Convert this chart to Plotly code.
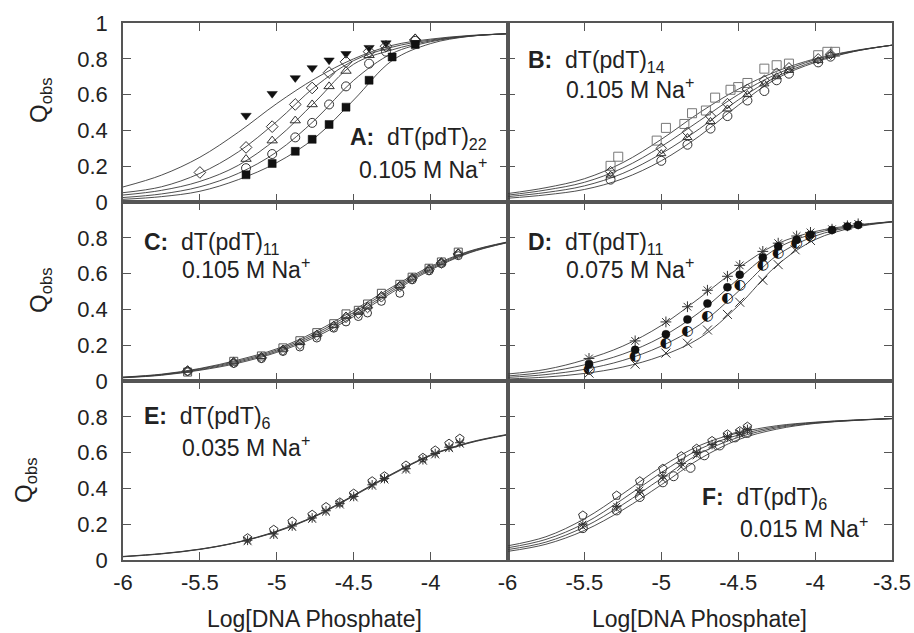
import plotly.graph_objects as go
from plotly.subplots import make_subplots

# ---------------- data ----------------
CURVE_X = [-6.0, -5.75, -5.5, -5.25, -5.0, -4.75, -4.5, -4.25, -4.0, -3.75, -3.5]

# Panel A: dT(pdT)22, 0.105 M Na+
A_CURVES = [
    [0.084, 0.15, 0.25, 0.39, 0.55, 0.69, 0.80, 0.875, 0.91, 0.93, 0.94],
    [0.052, 0.085, 0.16, 0.28, 0.45, 0.645, 0.79, 0.865, 0.905, 0.928, 0.94],
    [0.039, 0.065, 0.115, 0.205, 0.355, 0.56, 0.77, 0.85, 0.90, 0.927, 0.94],
    [0.025, 0.045, 0.085, 0.16, 0.28, 0.46, 0.68, 0.83, 0.895, 0.926, 0.94],
    [0.015, 0.03, 0.06, 0.125, 0.22, 0.36, 0.57, 0.79, 0.885, 0.925, 0.94],
]
A_TRI_DOWN_X = [-5.2, -5.03, -4.88, -4.77, -4.66, -4.55, -4.40, -4.29]
A_TRI_DOWN_Y = [0.483, 0.605, 0.693, 0.749, 0.792, 0.828, 0.862, 0.888]
A_DIAMOND_X = [-5.5, -5.2, -5.03, -4.88, -4.77, -4.66, -4.55, -4.40, -4.29, -4.10]
A_DIAMOND_Y = [0.165, 0.305, 0.421, 0.545, 0.637, 0.723, 0.783, 0.84, 0.87, 0.905]
A_TRI_UP_X = [-5.2, -5.03, -4.88, -4.77, -4.66, -4.55, -4.40, -4.29, -4.10]
A_TRI_UP_Y = [0.24, 0.343, 0.455, 0.545, 0.646, 0.732, 0.82, 0.862, 0.914]
A_CIRCLE_X = [-5.2, -5.03, -4.88, -4.77, -4.66, -4.55, -4.40, -4.29, -4.10]
A_CIRCLE_Y = [0.189, 0.268, 0.361, 0.442, 0.545, 0.646, 0.773, 0.84, 0.90]
A_SQUARE_X = [-5.2, -5.03, -4.88, -4.77, -4.66, -4.55, -4.40, -4.25, -4.10]
A_SQUARE_Y = [0.152, 0.215, 0.283, 0.35, 0.433, 0.53, 0.68, 0.81, 0.88]

# Panel B: dT(pdT)14, 0.105 M Na+
B_CURVES = [
    [0.047, 0.08, 0.13, 0.22, 0.35, 0.50, 0.63, 0.73, 0.80, 0.845, 0.876],
    [0.038, 0.067, 0.11, 0.19, 0.31, 0.455, 0.60, 0.715, 0.795, 0.843, 0.876],
    [0.030, 0.053, 0.09, 0.16, 0.27, 0.41, 0.57, 0.70, 0.787, 0.841, 0.876],
    [0.021, 0.04, 0.07, 0.13, 0.23, 0.37, 0.54, 0.69, 0.78, 0.84, 0.876],
]
B_SQUARE_X = [-5.33, -5.28, -5.03, -4.97, -4.85, -4.80, -4.71, -4.65, -4.55, -4.50,
              -4.44, -4.33, -4.25, -4.17, -3.98, -3.92, -3.87]
B_SQUARE_Y = [0.202, 0.253, 0.343, 0.414, 0.436, 0.496, 0.511, 0.583, 0.627, 0.642,
              0.665, 0.745, 0.764, 0.773, 0.82, 0.839, 0.839]
B_X = [-5.33, -5.0, -4.83, -4.68, -4.57, -4.44, -4.33, -4.25, -4.17, -3.98, -3.90]
B_DIAMOND_Y = [0.17, 0.30, 0.39, 0.48, 0.55, 0.63, 0.68, 0.72, 0.75, 0.80, 0.825]
B_TRI_UP_Y = [0.15, 0.27, 0.36, 0.45, 0.52, 0.60, 0.66, 0.70, 0.735, 0.79, 0.82]
B_CIRCLE_Y = [0.125, 0.23, 0.32, 0.41, 0.48, 0.567, 0.62, 0.68, 0.717, 0.78, 0.812]

# Panel C: dT(pdT)11, 0.105 M Na+
C_CURVES = [
    [0.022, 0.038, 0.07, 0.118, 0.18, 0.275, 0.395, 0.525, 0.64, 0.725, 0.777],
    [0.021, 0.036, 0.067, 0.112, 0.173, 0.265, 0.383, 0.515, 0.633, 0.722, 0.776],
    [0.019, 0.034, 0.063, 0.106, 0.166, 0.255, 0.371, 0.505, 0.626, 0.718, 0.774],
    [0.018, 0.032, 0.06, 0.10, 0.16, 0.245, 0.36, 0.495, 0.62, 0.715, 0.773],
]
C_X = [-5.58, -5.28, -5.10, -4.96, -4.85, -4.74, -4.63, -4.55, -4.47, -4.41,
       -4.32, -4.20, -4.12, -4.01, -3.93, -3.82]
C_SQUARE_Y = [0.05, 0.11, 0.14, 0.185, 0.225, 0.27, 0.32, 0.375, 0.395, 0.43,
              0.49, 0.54, 0.58, 0.63, 0.665, 0.72]
C_TRI_UP_Y = [0.06, 0.107, 0.137, 0.178, 0.215, 0.261, 0.311, 0.363, 0.385, 0.418,
              0.478, 0.533, 0.576, 0.626, 0.663, 0.715]
C_DIAMOND_Y = [0.057, 0.103, 0.13, 0.172, 0.205, 0.255, 0.305, 0.355, 0.378, 0.41,
               0.47, 0.528, 0.572, 0.622, 0.66, 0.71]
C_CIRCLE_Y = [0.054, 0.098, 0.125, 0.165, 0.19, 0.24, 0.295, 0.33, 0.36, 0.38,
              0.445, 0.49, 0.565, 0.615, 0.655, 0.70]

# Panel D: dT(pdT)11, 0.075 M Na+
D_CURVES = [
    [0.039, 0.065, 0.118, 0.195, 0.31, 0.465, 0.63, 0.765, 0.835, 0.87, 0.89],
    [0.028, 0.05, 0.09, 0.15, 0.245, 0.385, 0.57, 0.74, 0.825, 0.866, 0.89],
    [0.02, 0.036, 0.065, 0.115, 0.195, 0.315, 0.50, 0.70, 0.81, 0.862, 0.89],
    [0.011, 0.022, 0.042, 0.078, 0.14, 0.24, 0.42, 0.645, 0.79, 0.857, 0.888],
]
D_X = [-5.47, -5.17, -4.97, -4.83, -4.70, -4.57, -4.49, -4.34, -4.24, -4.12,
       -4.03, -3.89, -3.79, -3.72]
D_STAR_Y = [0.126, 0.224, 0.33, 0.415, 0.507, 0.585, 0.646, 0.724, 0.77, 0.81,
            0.83, 0.848, 0.867, 0.878]
D_FILLED_Y = [0.094, 0.174, 0.261, 0.344, 0.433, 0.524, 0.594, 0.69, 0.752, 0.789,
              0.817, 0.844, 0.863, 0.872]
D_HALF_X = [-5.47, -5.17, -4.97, -4.83, -4.70, -4.57, -4.49, -4.34, -4.24, -4.12, -4.03]
D_HALF_Y = [0.067, 0.137, 0.211, 0.274, 0.363, 0.459, 0.533, 0.646, 0.715, 0.77, 0.807]
D_CROSS_X = [-5.47, -5.17, -4.97, -4.83, -4.70, -4.57, -4.49, -4.34, -4.24, -4.13, -4.03]
D_CROSS_Y = [0.044, 0.094, 0.156, 0.211, 0.285, 0.372, 0.44, 0.563, 0.65, 0.733, 0.785]

# Panel E: dT(pdT)6, 0.035 M Na+
E_CURVES = [
    [0.020, 0.036, 0.061, 0.101, 0.162, 0.247, 0.362, 0.482, 0.587, 0.657, 0.702],
    [0.019, 0.035, 0.06, 0.10, 0.16, 0.245, 0.36, 0.48, 0.585, 0.655, 0.70],
    [0.018, 0.034, 0.059, 0.099, 0.158, 0.243, 0.357, 0.477, 0.583, 0.653, 0.699],
]
E_X = [-5.19, -5.02, -4.90, -4.77, -4.68, -4.59, -4.50, -4.38, -4.30, -4.16,
       -4.05, -3.97, -3.88, -3.81]
E_PENT_Y = [0.122, 0.169, 0.215, 0.253, 0.296, 0.322, 0.371, 0.44, 0.468, 0.528,
            0.571, 0.612, 0.65, 0.678]
E_STAR_Y = [0.11, 0.145, 0.19, 0.235, 0.275, 0.315, 0.355, 0.42, 0.455, 0.51,
            0.56, 0.595, 0.63, 0.655]
E_CROSS_Y = [0.105, 0.14, 0.185, 0.23, 0.27, 0.31, 0.35, 0.415, 0.45, 0.505,
             0.555, 0.59, 0.625, 0.65]

# Panel F: dT(pdT)6, 0.015 M Na+
F_CURVES = [
    [0.079, 0.13, 0.23, 0.37, 0.52, 0.64, 0.71, 0.75, 0.77, 0.782, 0.79],
    [0.068, 0.115, 0.205, 0.34, 0.488, 0.62, 0.698, 0.744, 0.768, 0.781, 0.79],
    [0.058, 0.10, 0.185, 0.31, 0.455, 0.595, 0.685, 0.738, 0.765, 0.78, 0.79],
    [0.048, 0.088, 0.165, 0.28, 0.42, 0.565, 0.672, 0.731, 0.763, 0.779, 0.79],
]
F_X = [-5.51, -5.29, -5.14, -4.99, -4.87, -4.77, -4.67, -4.57, -4.49, -4.44]
F_PENT_Y = [0.249, 0.36, 0.44, 0.51, 0.58, 0.622, 0.665, 0.702, 0.72, 0.745]
F_STAR_Y = [0.20, 0.30, 0.39, 0.47, 0.54, 0.60, 0.645, 0.69, 0.71, 0.73]
F_CROSS_Y = [0.185, 0.285, 0.37, 0.45, 0.52, 0.585, 0.635, 0.68, 0.705, 0.72]
F_CIRCLE_X = [-5.51, -5.29, -5.14, -4.99, -4.92, -4.81, -4.72, -4.62, -4.52, -4.44]
F_CIRCLE_Y = [0.178, 0.277, 0.352, 0.434, 0.468, 0.515, 0.585, 0.64, 0.685, 0.71]

Y_TICKS_TOP = [0, 0.2, 0.4, 0.6, 0.8, 1]
Y_TICKS = [0, 0.2, 0.4, 0.6, 0.8]
X_TICKS_LEFT = [-6, -5.5, -5, -4.5, -4]
X_TICKS_RIGHT = [-6, -5.5, -5, -4.5, -4, -3.5]

# ---------------- figure ----------------
FONT = "Liberation Sans, Arial, Helvetica, sans-serif"
TXT = "#222222"
FRAME = "#555555"
LINE = "#3a3a3a"
MK = "#333333"

fig = make_subplots(rows=3, cols=2, horizontal_spacing=0, vertical_spacing=0)


def curves(ys, row, col):
    for y in ys:
        fig.add_trace(go.Scatter(x=CURVE_X, y=y, mode="lines",
                                 line=dict(color=LINE, width=0.9, shape="spline", smoothing=1.0),
                                 hoverinfo="skip", showlegend=False), row=row, col=col)


def marks(x, y, row, col, symbol, size=8, filled=False, color=MK, lw=1.0):
    fig.add_trace(go.Scatter(
        x=x, y=y, mode="markers", showlegend=False,
        marker=dict(symbol=symbol, size=size, color=color,
                    line=dict(color=color, width=lw if not filled else 0.5)),
    ), row=row, col=col)


def glyphs(x, y, row, col, ch, size=13):
    fig.add_trace(go.Scatter(x=x, y=y, mode="text", text=[ch] * len(x),
                             textposition="middle center",
                             textfont=dict(family="DejaVu Sans", size=size, color="#111"),
                             showlegend=False), row=row, col=col)


# A
curves(A_CURVES, 1, 1)
marks(A_TRI_DOWN_X, A_TRI_DOWN_Y, 1, 1, "triangle-down", 9, True, "#111")
marks(A_DIAMOND_X, A_DIAMOND_Y, 1, 1, "diamond-open", 9)
marks(A_TRI_UP_X, A_TRI_UP_Y, 1, 1, "triangle-up-open", 9)
marks(A_CIRCLE_X, A_CIRCLE_Y, 1, 1, "circle-open", 9)
marks(A_SQUARE_X, A_SQUARE_Y, 1, 1, "square", 8, True, "#111")

# B
curves(B_CURVES, 1, 2)
marks(B_SQUARE_X, B_SQUARE_Y, 1, 2, "square-open", 9, color="#777777")
marks(B_X, B_DIAMOND_Y, 1, 2, "diamond-open", 8)
marks(B_X, B_TRI_UP_Y, 1, 2, "triangle-up-open", 8)
marks(B_X, B_CIRCLE_Y, 1, 2, "circle-open", 9)

# C
curves(C_CURVES, 2, 1)
marks(C_X, C_SQUARE_Y, 2, 1, "square-open", 8, color="#555555")
marks(C_X, C_TRI_UP_Y, 2, 1, "triangle-up-open", 8)
marks(C_X, C_DIAMOND_Y, 2, 1, "diamond-open", 8)
marks(C_X, C_CIRCLE_Y, 2, 1, "circle-open", 8)

# D
curves(D_CURVES, 2, 2)
marks(D_X, D_STAR_Y, 2, 2, "asterisk-open", 9)
marks(D_X, D_FILLED_Y, 2, 2, "circle", 8, True, "#111")
glyphs(D_HALF_X, D_HALF_Y, 2, 2, "\u25D0", 14)
marks(D_CROSS_X, D_CROSS_Y, 2, 2, "x-thin-open", 9)

# E
curves(E_CURVES, 3, 1)
marks(E_X, E_STAR_Y, 3, 1, "asterisk-open", 8)
marks(E_X, E_CROSS_Y, 3, 1, "x-thin-open", 8)
marks(E_X, E_PENT_Y, 3, 1, "pentagon-open", 9)

# F
curves(F_CURVES, 3, 2)
marks(F_X, F_STAR_Y, 3, 2, "asterisk-open", 8)
marks(F_X, F_CROSS_Y, 3, 2, "x-thin-open", 8)
marks(F_CIRCLE_X, F_CIRCLE_Y, 3, 2, "circle-open", 9)
marks(F_X, F_PENT_Y, 3, 2, "pentagon-open", 9)

axis_common = dict(showgrid=False, zeroline=False, showline=True, linecolor=FRAME, linewidth=1.5,
                   mirror="allticks", ticks="inside", ticklen=8, tickwidth=1.2, tickcolor=FRAME,
                   automargin=False,
                   tickfont=dict(family=FONT, size=22, color=TXT))

for r in (1, 2, 3):
    for c in (1, 2):
        xt = X_TICKS_LEFT if c == 1 else X_TICKS_RIGHT
        fig.update_xaxes(axis_common, row=r, col=c, range=[-6, -3.5],
                         tickvals=xt, ticktext=[("%g" % v) for v in xt],
                         showticklabels=(r == 3), ticklabelstandoff=2)
        yt = Y_TICKS_TOP if r == 1 else Y_TICKS
        fig.update_yaxes(axis_common, row=r, col=c, range=[0, 1],
                         tickvals=yt, ticktext=[("%g" % v) for v in yt],
                         showticklabels=(c == 1), ticklabelstandoff=9)

L, R, T, B = 123, 22, 23, 73
W, H = 914, 633
PW, PH = W - L - R, H - T - B


def px(x):
    return (x - L) / PW


def py(y):
    return (H - B - y) / PH


ann = []


def text(s, x, y, anchor="left", size=23, angle=0):
    ann.append(dict(text=s, x=px(x), y=py(y), xref="paper", yref="paper",
                    xanchor=anchor, yanchor="middle", showarrow=False, textangle=angle,
                    font=dict(family=FONT, size=size, color=TXT)))


# panel labels
text("<b>A:</b>  dT(pdT)<sub>22</sub>", 489, 138, "right")
text("0.105 M Na<sup>+</sup>", 489, 168, "right")
text("<b>B:</b>  dT(pdT)<sub>14</sub>", 526, 62)
text("0.105 M Na<sup>+</sup>", 564, 88)
text("<b>C:</b>  dT(pdT)<sub>11</sub>", 142, 243)
text("0.105 M Na<sup>+</sup>", 180, 268)
text("<b>D:</b>  dT(pdT)<sub>11</sub>", 526, 243)
text("0.075 M Na<sup>+</sup>", 564, 268)
text("<b>E:</b>  dT(pdT)<sub>6</sub>", 142, 418)
text("0.035 M Na<sup>+</sup>", 180, 446)
text("<b>F:</b>  dT(pdT)<sub>6</sub>", 700, 498)
text("0.015 M Na<sup>+</sup>", 738, 527)

# axis titles
text("Log[DNA Phosphate]", 314, 619, "center", 23)
text("Log[DNA Phosphate]", 699, 619, "center", 23)
text("Q<sub>obs</sub>", 40, 100, "center", 24, -90)
text("Q<sub>obs</sub>", 40, 290, "center", 24, -90)
text("Q<sub>obs</sub>", 26, 480, "center", 24, -90)

fig.update_layout(width=W, height=H, margin=dict(l=L, r=R, t=T, b=B),
                  plot_bgcolor="white", paper_bgcolor="white",
                  font=dict(family=FONT, color=TXT), annotations=ann, showlegend=False)

fig.write_html("out.html", config={"displayModeBar": False},
               post_script="document.body.style.margin='0';document.body.style.overflow='hidden';")
